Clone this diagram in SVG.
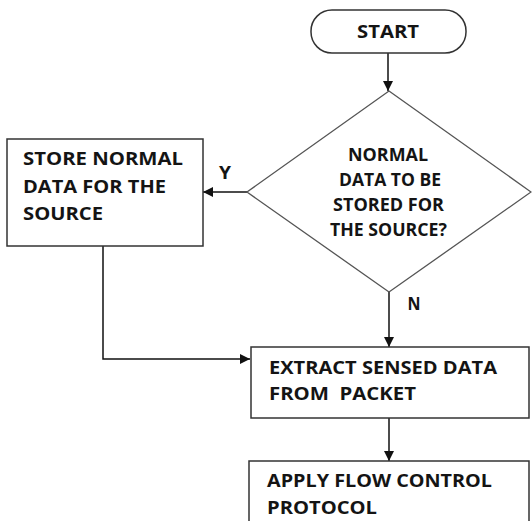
<svg xmlns="http://www.w3.org/2000/svg" width="532" height="521" viewBox="0 0 532 521">
  <style>
    .shape { fill: #ffffff; stroke: #333333; stroke-width: 1.5; }
    .diamond { fill: #ffffff; stroke: #555555; stroke-width: 1.3; }
    .label { font-family: "Open Sans", "Liberation Sans", sans-serif; font-weight: bold; font-size: 17px; fill: #141414; }
    .mid { text-anchor: middle; }
    .edge { fill: none; stroke: #111111; stroke-width: 1.5; }
  </style>
  <defs>
    <marker id="arrow" markerWidth="10" markerHeight="10" refX="10" refY="5" orient="auto" markerUnits="userSpaceOnUse">
      <path d="M0,0 L10,5 L0,10 Z" fill="#111111"/>
    </marker>
  </defs>
  <rect width="532" height="521" fill="#ffffff"/>

  <g id="connectors">
    <path class="edge" d="M388,53 L388,91" marker-end="url(#arrow)"/>
    <path class="edge" d="M247,192 L203,192" marker-end="url(#arrow)"/>
    <path class="edge" d="M389,292 L389,347" marker-end="url(#arrow)"/>
    <path class="edge" d="M103,246 L103,359 L250,359" marker-end="url(#arrow)"/>
    <path class="edge" d="M389,418 L389,461" marker-end="url(#arrow)"/>
    <text class="label mid" x="225" y="179" textLength="12" lengthAdjust="spacingAndGlyphs">Y</text>
    <text class="label mid" x="414" y="310" textLength="13" lengthAdjust="spacingAndGlyphs">N</text>
  </g>

  <g id="start">
    <rect class="shape" x="311" y="10" width="155" height="43" rx="21" ry="21"/>
    <text class="label mid" x="388" y="38" textLength="62" lengthAdjust="spacingAndGlyphs">START</text>
  </g>

  <g id="decision">
    <polygon class="diamond" points="389,91 531,192 389,292 247,192"/>
    <text class="label mid" x="388" y="161" textLength="80" lengthAdjust="spacingAndGlyphs">NORMAL</text>
    <text class="label mid" x="390" y="186" textLength="102" lengthAdjust="spacingAndGlyphs">DATA TO BE</text>
    <text class="label mid" x="388.5" y="211" textLength="111" lengthAdjust="spacingAndGlyphs">STORED FOR</text>
    <text class="label mid" x="388.5" y="236" textLength="117" lengthAdjust="spacingAndGlyphs">THE SOURCE?</text>
  </g>

  <g id="store">
    <rect class="shape" x="7" y="139" width="196" height="107"/>
    <text class="label" x="23" y="165" textLength="160" lengthAdjust="spacingAndGlyphs">STORE NORMAL</text>
    <text class="label" x="23" y="193" textLength="143" lengthAdjust="spacingAndGlyphs">DATA FOR THE</text>
    <text class="label" x="23" y="220" textLength="80" lengthAdjust="spacingAndGlyphs">SOURCE</text>
  </g>

  <g id="extract">
    <rect class="shape" x="251" y="347" width="278" height="71"/>
    <text class="label" x="269" y="374" textLength="228" lengthAdjust="spacingAndGlyphs">EXTRACT SENSED DATA</text>
    <text class="label" x="269" y="400" textLength="147" lengthAdjust="spacingAndGlyphs" xml:space="preserve">FROM  PACKET</text>
  </g>

  <g id="flow-control">
    <rect class="shape" x="249" y="461" width="280" height="80"/>
    <text class="label" x="267" y="487" textLength="225" lengthAdjust="spacingAndGlyphs">APPLY FLOW CONTROL</text>
    <text class="label" x="267" y="514" textLength="110" lengthAdjust="spacingAndGlyphs">PROTOCOL</text>
  </g>
</svg>
